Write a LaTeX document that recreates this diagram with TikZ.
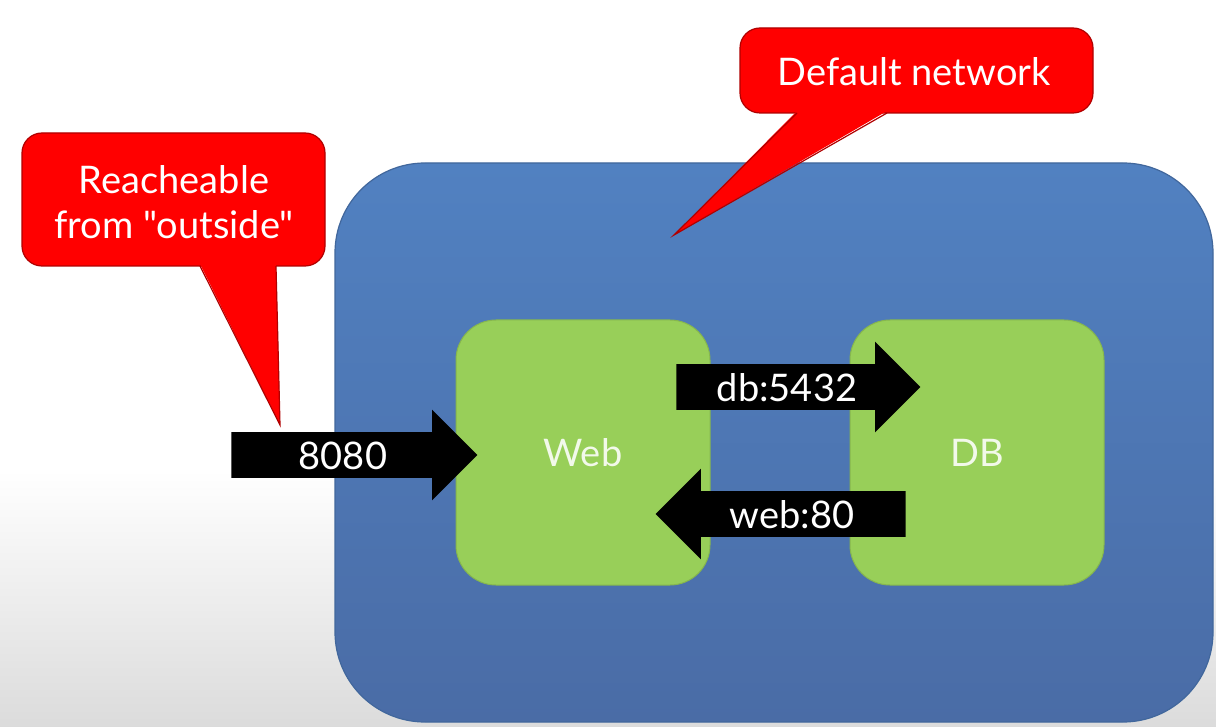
\documentclass[tikz,border=0pt]{standalone}
\usepackage{fontspec}
\setmainfont{Lato}[Ligatures=TeXOff]
\usepackage{tikz}
\usetikzlibrary{shapes.arrows}

\definecolor{NetTop}{HTML}{5181C1}
\definecolor{NetBot}{HTML}{4A6CA6}
\definecolor{NetEdge}{HTML}{41679C}
\definecolor{BoxGreen}{HTML}{98CF59}
\definecolor{BoxEdge}{HTML}{86B64E}
\definecolor{CallRed}{HTML}{FF0000}
\definecolor{CallEdge}{HTML}{B00000}
\definecolor{PaleText}{HTML}{F2F9EA}

\tikzset{
  netbox/.style={draw=NetEdge, line width=0.6pt, top color=NetTop, bottom color=NetBot,
    rounded corners=45pt, minimum width=439pt, minimum height=279.5pt},
  svcbox/.style={draw=BoxEdge, line width=0.5pt, fill=BoxGreen, rounded corners=20pt,
    minimum width=127pt, minimum height=132.5pt, text=PaleText, font=\fontsize{19}{22}\selectfont},
  callbox/.style={draw=CallEdge, line width=0.6pt, fill=CallRed, rounded corners=10pt},
  calltext/.style={text=white, align=center, font=\fontsize{19}{22.5}\selectfont},
  portarrow/.style={single arrow, fill=black, text=white, font=\fontsize{19}{22}\selectfont,
    single arrow head extend=11.25pt, text height=14pt, text depth=0pt,
    inner ysep=4.25pt, inner xsep=0pt}
}

\begin{document}
\begin{tikzpicture}[x=0.5pt, y=-0.5pt]
	\useasboundingbox (0,0) rectangle (1216,727);
	% page background
	\fill[white] (0,0) rectangle (1216,727);
	\shade[top color=white, bottom color=gray!28] (0,470) rectangle (1216,727);

	% network and containers
	\node[netbox] (net) at (774,442.5) {};
	\node[svcbox] (web) at (583,452.5) {Web};
	\node[svcbox] (db) at (977,452.5) {DB};

	% port arrows
	\node[portarrow, minimum height=123pt, anchor=tip] (pub) at (478,455) {8080};
	\node[portarrow, minimum height=122pt, anchor=tip] (todb) at (921,387) {db:5432};
	\node[portarrow, minimum height=125pt, shape border rotate=180, anchor=tip] (toweb) at (655,514) {web:80};

	% callout: reachable from outside
	\draw[callbox] (22,133) rectangle (325,266);
	\fill[CallRed] (200,264) -- (280,425) -- (276,264) -- cycle;
	\draw[CallEdge, line width=0.6pt] (200,266) -- (280,425) -- (276,266);
	\node[calltext] (reach) at (174,202) {Reacheable\\from "outside"};

	% callout: default network
	\draw[callbox] (740,28) rectangle (1093,113);
	\fill[CallRed] (797,111) -- (674,235) -- (887,111) -- cycle;
	\draw[CallEdge, line width=0.6pt] (797,113) -- (674,235) -- (887,113);
	\node[calltext] (deflt) at (914,72) {Default network};
\end{tikzpicture}
\end{document}
